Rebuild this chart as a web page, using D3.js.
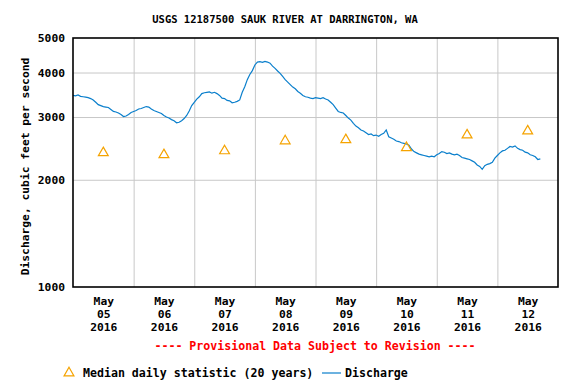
<!DOCTYPE html>
<html>
<head>
<meta charset="utf-8">
<script src="https://cdn.jsdelivr.net/npm/d3@7"></script>
<style>
  body { margin: 0; background: #fff; }
  svg text { font-family: "DejaVu Sans Mono", monospace; font-weight: bold; fill: #000; }
</style>
</head>
<body>
<div id="chart"></div>
<script>
// --- data
const startTime = new Date(2016, 4, 5, 0, 0);   // first hourly reading
const endTime = new Date(2016, 4, 13, 0, 0);
const days = ['05', '06', '07', '08', '09', '10', '11', '12'];
const yTicks = [1000, 2000, 3000, 4000, 5000];
const yGrid = [2000, 3000, 4000];

// median daily statistic (20 years), one per day at noon
const medianDaily = [2380, 2350, 2410, 2570, 2590, 2460, 2670, 2740];

// discharge, hourly, cfs
const discharge = [
  3450, 3440, 3460, 3430, 3420, 3410, 3400, 3380, 3350, 3300, 3250, 3230,
  3210, 3200, 3190, 3150, 3110, 3100, 3080, 3050, 3010, 3020, 3050, 3090,
  3110, 3130, 3160, 3170, 3190, 3210, 3200, 3160, 3130, 3110, 3090, 3070,
  3030, 3000, 2980, 2950, 2930, 2890, 2900, 2930, 2970, 3030, 3120, 3230,
  3300, 3370, 3420, 3490, 3510, 3520, 3530, 3500, 3520, 3490, 3450, 3390,
  3380, 3340, 3330, 3290, 3300, 3320, 3350, 3520, 3650, 3820, 3950, 4050,
  4200, 4280, 4290, 4270, 4300, 4280, 4250, 4170, 4110, 4040, 3980, 3900,
  3820, 3760, 3700, 3640, 3600, 3540, 3500, 3450, 3420, 3410, 3390, 3380,
  3400, 3390, 3380, 3400, 3370, 3350, 3300, 3250, 3180, 3110, 3090, 3080,
  3030, 2980, 2940, 2880, 2830, 2800, 2760, 2740, 2710, 2680, 2690, 2660,
  2670, 2650, 2680, 2700, 2760, 2640, 2620, 2600, 2570, 2560, 2540, 2530,
  2520, 2500, 2440, 2400, 2380, 2360, 2350, 2340, 2330, 2320, 2330, 2320,
  2350, 2370, 2400, 2390, 2370, 2380, 2360, 2350, 2360, 2340, 2310, 2300,
  2290, 2280, 2260, 2240, 2200, 2180, 2140, 2190, 2210, 2220, 2240, 2300,
  2340, 2380, 2410, 2420, 2450, 2480, 2470, 2490, 2450, 2430, 2420, 2390,
  2380, 2350, 2340, 2320, 2280, 2290
];

const width = 576;
const height = 384;
const margin = { top: 38, right: 18, bottom: 97, left: 73 };
const w = width - margin.left - margin.right;
const h = height - margin.top - margin.bottom;

const blue = '#0a7fcc';
const orange = '#f5a300';

const svg = d3.select('#chart')
  .append('svg')
  .attr('width', width)
  .attr('height', height);

const x = d3.scaleTime().domain([startTime, endTime]).range([0, w]);
const y = d3.scaleLog().domain([1000, 5000]).range([h, 0]);

const g = svg.append('g')
  .attr('transform', `translate(${margin.left},${margin.top})`);

// --- grid
g.append('g')
  .call(d3.axisLeft(y).tickValues(yGrid).tickSize(-w).tickFormat(''))
  .call(a => a.select('.domain').remove())
  .call(a => a.selectAll('line').attr('stroke', '#c8c8c8'));

g.append('g')
  .attr('transform', `translate(0,${h})`)
  .call(d3.axisBottom(x).tickValues(d3.timeDay.range(d3.timeDay.offset(startTime, 1), endTime)).tickSize(-h).tickFormat(''))
  .call(a => a.select('.domain').remove())
  .call(a => a.selectAll('line').attr('stroke', '#c8c8c8'));

// --- y axis labels
g.append('g')
  .call(d3.axisLeft(y).tickValues(yTicks).tickSize(0).tickPadding(8).tickFormat(d3.format('d')))
  .call(a => a.select('.domain').remove())
  .call(a => a.selectAll('text').style('font-size', '11.3px'));

// --- x axis labels, three lines each at noon
const noons = days.map((d, i) => d3.timeHour.offset(startTime, i * 24 + 12));
g.append('g')
  .attr('transform', `translate(0,${h})`)
  .call(d3.axisBottom(x).tickValues(noons).tickSize(0).tickFormat(''))
  .call(a => a.select('.domain').remove())
  .selectAll('.tick text')
  .each(function (d, i) {
    const t = d3.select(this).attr('y', 0).attr('dy', null).style('font-size', '11.3px');
    ['May', days[i], '2016'].forEach((s, k) => {
      t.append('tspan').attr('x', 0).attr('y', 18 + k * 13).text(s);
    });
  });

// --- discharge line
const line = d3.line()
  .x((d, i) => x(d3.timeHour.offset(startTime, i)))
  .y(d => y(d));

g.append('path')
  .datum(discharge)
  .attr('fill', 'none')
  .attr('stroke', blue)
  .attr('stroke-width', 1.2)
  .attr('d', line);

// --- median triangles
const tri = d3.symbol().type(d3.symbolTriangle).size(42);
g.append('g')
  .selectAll('path')
  .data(medianDaily)
  .join('path')
  .attr('d', tri)
  .attr('transform', (d, i) => `translate(${x(noons[i])},${y(d)})`)
  .attr('fill', 'none')
  .attr('stroke', orange)
  .attr('stroke-width', 1.2);

// --- frame
g.append('rect')
  .attr('width', w)
  .attr('height', h)
  .attr('fill', 'none')
  .attr('stroke', '#000')
  .attr('stroke-width', 1.6);

// --- titles
svg.append('text')
  .attr('x', 285)
  .attr('y', 23)
  .attr('text-anchor', 'middle')
  .style('font-size', '10.5px')
  .text('USGS 12187500 SAUK RIVER AT DARRINGTON, WA');

svg.append('text')
  .attr('transform', `translate(29,${margin.top + h / 2 + 4}) rotate(-90)`)
  .attr('text-anchor', 'middle')
  .style('font-size', '11.3px')
  .text('Discharge, cubic feet per second');

svg.append('text')
  .attr('x', 315)
  .attr('y', 350)
  .attr('text-anchor', 'middle')
  .style('font-size', '11.6px')
  .style('fill', '#ff0000')
  .text('---- Provisional Data Subject to Revision ----');

// --- legend
const leg = svg.append('g').attr('transform', 'translate(0,373)');
leg.append('path')
  .attr('d', tri)
  .attr('transform', 'translate(69,0)')
  .attr('fill', 'none')
  .attr('stroke', orange)
  .attr('stroke-width', 1.2);
leg.append('text')
  .attr('x', 83)
  .attr('y', 4)
  .style('font-size', '11.6px')
  .text('Median daily statistic (20 years)');
leg.append('line')
  .attr('x1', 322).attr('x2', 341)
  .attr('y1', 0).attr('y2', 0)
  .attr('stroke', blue)
  .attr('stroke-width', 1.2);
leg.append('text')
  .attr('x', 345)
  .attr('y', 4)
  .style('font-size', '11.6px')
  .text('Discharge');
</script>
</body>
</html>
